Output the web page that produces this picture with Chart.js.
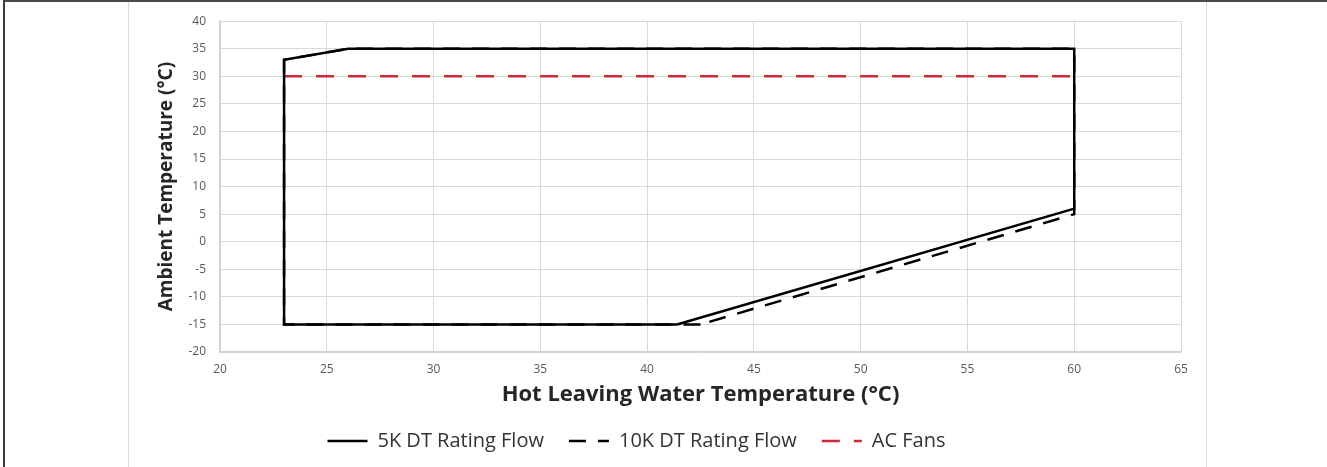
<!DOCTYPE html>
<html>
<head>
<meta charset="utf-8">
<title>Operating envelope</title>
<script src="https://cdn.jsdelivr.net/npm/chart.js@4"></script>
<style>
  html, body { margin: 0; padding: 0; background: #ffffff; }
  #wrap { position: relative; width: 1327px; height: 467px; overflow: hidden; }
  #chart { position: absolute; left: 0; top: 0; }
  .frame-top { position: absolute; left: 3px; top: 0; width: 1324px; height: 2px; background: #4a4a4a; }
  .frame-left { position: absolute; left: 3px; top: 0; width: 2px; height: 467px; background: #3a3a3a; }
  .rule { position: absolute; top: 2px; width: 1px; height: 465px; background: #d9d9d9; }
</style>
</head>
<body>
<div id="wrap">
  <canvas id="chart" width="1327" height="467"></canvas>
  <div class="frame-top"></div>
  <div class="frame-left"></div>
  <div class="rule" style="left:128px"></div>
  <div class="rule" style="left:1206px"></div>
</div>
<script>
// Envelope outlines: hot leaving water temperature (°C) vs ambient temperature (°C)
const seriesNames = ['5K DT Rating Flow', '10K DT Rating Flow', 'AC Fans'];

const flow5KWater   = [41.4, 23, 23, 26, 60, 60, 41.4];
const flow5KAmbient = [-15, -15, 33, 35, 35, 6, -15];

const flow10KWater   = [42.5, 23, 23, 26, 60, 60, 42.5];
const flow10KAmbient = [-15, -15, 33, 35, 35, 5, -15];

const acFansWater   = [23, 60];
const acFansAmbient = [30, 30];

const xTicks = [20, 25, 30, 35, 40, 45, 50, 55, 60, 65];
const yTicks = [-20, -15, -10, -5, 0, 5, 10, 15, 20, 25, 30, 35, 40];

const toPoints = (xs, ys) => xs.map((x, i) => ({ x: x, y: ys[i] }));

const tickFont = { family: '"Open Sans", sans-serif', size: 12 };
const titleColor = '#262626';

// Shift the centred legend row a little to the left of the plot centre
const legendShift = {
  id: 'legendShift',
  afterLayout(chart) {
    if (chart.legend) {
      chart.legend.left -= 19;
      chart.legend.right -= 19;
    }
  }
};

new Chart(document.getElementById('chart'), {
  type: 'line',
  data: {
    datasets: [
      {
        label: seriesNames[0],
        data: toPoints(flow5KWater, flow5KAmbient),
        borderColor: '#000000',
        backgroundColor: '#000000',
        borderWidth: 2.5,
        borderJoinStyle: 'miter',
        pointRadius: 0,
        tension: 0,
        fill: false
      },
      {
        label: seriesNames[1],
        data: toPoints(flow10KWater, flow10KAmbient),
        borderColor: '#000000',
        backgroundColor: '#000000',
        borderWidth: 2.5,
        borderDash: [17, 12],
        borderJoinStyle: 'miter',
        pointRadius: 0,
        tension: 0,
        fill: false
      },
      {
        label: seriesNames[2],
        data: toPoints(acFansWater, acFansAmbient),
        borderColor: '#cc2a36',
        backgroundColor: '#cc2a36',
        borderWidth: 2.5,
        borderDash: [18, 14],
        pointRadius: 0,
        tension: 0,
        fill: false
      }
    ]
  },
  options: {
    responsive: false,
    animation: false,
    layout: { padding: { left: 130, right: 146, top: 17, bottom: 6 } },
    plugins: {
      tooltip: { enabled: false },
      legend: {
        position: 'bottom',
        labels: {
          usePointStyle: true,
          pointStyle: 'line',
          pointStyleWidth: 40,
          padding: 25,
          color: '#333333',
          font: { family: '"Open Sans", sans-serif', size: 20 },
          generateLabels(chart) {
            const items = Chart.defaults.plugins.legend.labels.generateLabels(chart);
            items.forEach((item) => {
              const ds = chart.data.datasets[item.datasetIndex];
              item.lineDash = ds.borderDash || [];
              item.strokeStyle = ds.borderColor;
              item.lineWidth = ds.borderWidth;
            });
            return items;
          }
        }
      }
    },
    scales: {
      x: {
        type: 'linear',
        min: 20,
        max: 65,
        afterBuildTicks: (scale) => { scale.ticks = xTicks.map(v => ({ value: v })); },
        afterFit: (scale) => { scale.height = 54; },
        grid: { color: '#d9d9d9', lineWidth: 1, drawTicks: false },
        border: { color: '#d0d0d0', width: 1.5 },
        ticks: { color: '#595959', font: tickFont, padding: 10, maxRotation: 0 },
        title: {
          display: true,
          text: 'Hot Leaving Water Temperature (°C)',
          color: titleColor,
          font: { family: '"Open Sans", sans-serif', size: 22, weight: 'bold' },
          padding: { top: 0, bottom: -2 }
        }
      },
      y: {
        type: 'linear',
        min: -20,
        max: 40,
        afterBuildTicks: (scale) => { scale.ticks = yTicks.map(v => ({ value: v })); },
        afterFit: (scale) => { scale.width = 90; },
        grid: { color: '#d9d9d9', lineWidth: 1, drawTicks: false },
        border: { color: '#d0d0d0', width: 1.5 },
        ticks: { color: '#595959', font: tickFont, padding: 14 },
        title: {
          display: true,
          text: 'Ambient Temperature (°C)',
          color: titleColor,
          font: { family: '"Open Sans", sans-serif', size: 19, weight: 'bold' },
          padding: { top: 25, bottom: 0 }
        }
      }
    }
  },
  plugins: [legendShift]
});
</script>
</body>
</html>
